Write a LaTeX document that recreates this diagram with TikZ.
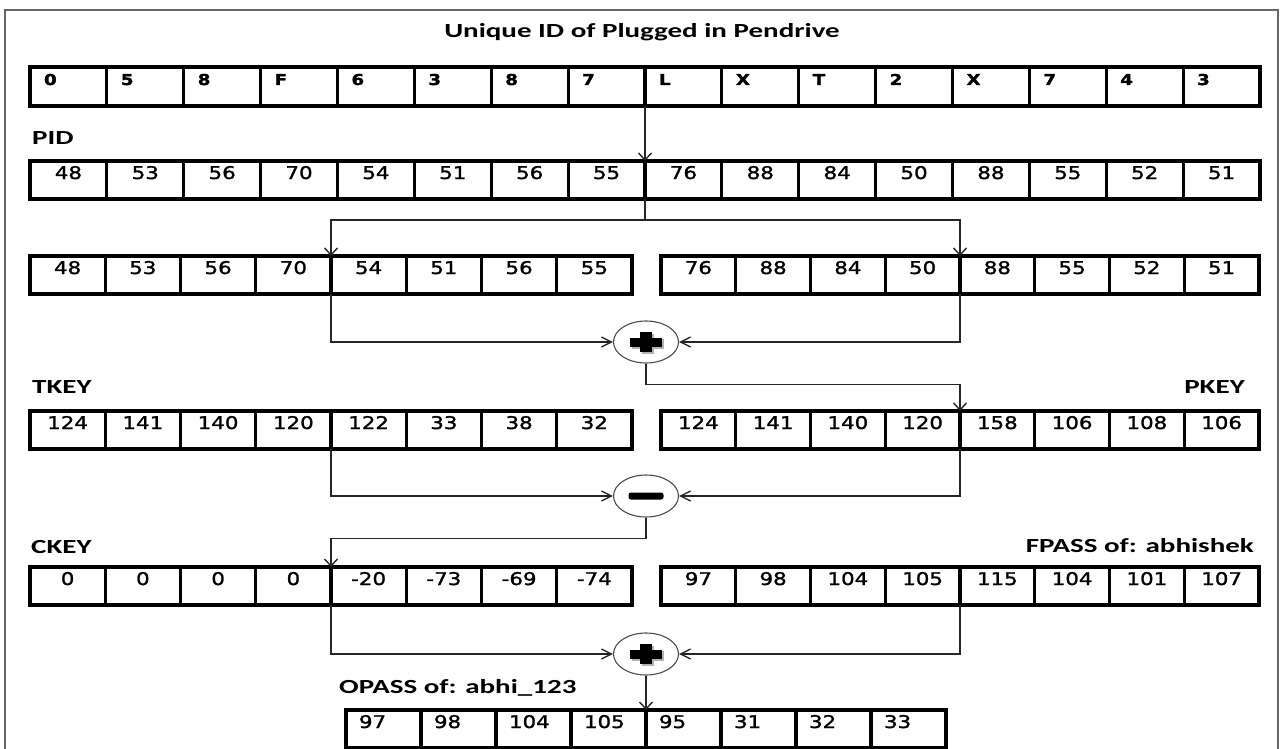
\documentclass[tikz,border=0pt]{standalone}
\usepackage{fontspec}
\usetikzlibrary{arrows.meta,shapes.geometric}
\newfontfamily\labfont[FakeStretch=1.45]{Carlito}
\newfontfamily\cellfont[FakeStretch=1.22,FakeBold=1.5]{DejaVu Sans}

\tikzset{
  cellbase/.style={draw=black, line width=3.2pt, inner ysep=0pt, outer sep=0pt,
    text height=18pt, text depth=20pt, font=\cellfont\fontsize{17.5}{17.5}\selectfont},
  numcell/.style={cellbase, text width=#1pt, inner xsep=0pt, align=center},
  leftcell/.style n args={2}{cellbase, text width=#1pt, inner xsep=#2pt, align=left},
  idcell/.style={leftcell={48.875}{14}, text height=18pt, text depth=21pt,
    font=\cellfont\bfseries\fontsize{15}{15}\selectfont},
  lab/.style={font=\labfont\bfseries\fontsize{20}{20}\selectfont, inner sep=0pt},
  frame/.style={draw=black!60, line width=1.6pt},
  conn/.style={draw=black!85, line width=1.4pt},
  harr/.style={-{Straight Barb[length=10pt,width=10pt,line width=1.4pt]}},
  varr/.style={-{Straight Barb[length=7pt,width=13pt,line width=1.4pt]}},
  opnode/.style={ellipse, draw=black!70, line width=1.1pt, fill=white,
    minimum width=65pt, minimum height=42pt, inner sep=0pt},
  plussign/.pic={
    \fill[black!30] (-14.5,-3) rectangle (17.5,6.5);
    \fill[black!30] (-4.5,-8.5) rectangle (8,12);
    \fill[black] (-16,-4.5) rectangle (16,4.5);
    \fill[black] (-6,-10) rectangle (6,10);
  },
  minussign/.pic={
    \fill[black, rounded corners=2.5pt] (-17.5,-3.5) rectangle (17.5,3.5);
  }
}

\begin{document}
\begin{tikzpicture}[x=1pt,y=-1pt]
\useasboundingbox (0,0) rectangle (1282,749);
\fill[white] (0,0) rectangle (1282,749);

% page frame
\draw[frame] (5,749) -- (5,10) -- (1278,10) -- (1278,749);

% labels
\node[lab, anchor=base] (title) at (642,38) {Unique ID of Plugged in Pendrive};
\node[lab, anchor=base west] (pidlab) at (32,145) {PID};
\node[lab, anchor=base west] (tkeylab) at (32,393) {TKEY};
\node[lab, anchor=base east] (pkeylab) at (1245,393) {PKEY};
\node[lab, anchor=base west] (ckeylab) at (31,553) {CKEY};
\node[lab, anchor=base east] (fpasslab) at (1254,552) {FPASS of: abhishek};
\node[lab, anchor=base west] (opasslab) at (339,693) {OPASS of: abhi\_123};

% unique ID characters
\foreach \v [count=\i] in {0,5,8,F,6,3,8,7,L,X,T,2,X,7,4,3}
  \node[idcell] (u\i) at ({30+76.875*(\i-0.5)},86.5) {\v};

% PID codes
\foreach \v [count=\i] in {48,53,56,70,54,51,56,55,76,88,84,50,88,55,52,51}
  \node[numcell=76.875] (p\i) at ({30+76.875*(\i-0.5)},180) {\v};

% halves of PID
\foreach \v [count=\i] in {48,53,56,70,54,51,56,55}
  \node[numcell=75.25] (a\i) at ({30+75.25*(\i-0.5)},275) {\v};
\foreach \v [count=\i] in {76,88,84,50,88,55,52,51}
  \node[numcell=74.75] (b\i) at ({661+74.75*(\i-0.5)},275) {\v};

% TKEY and PKEY
\foreach \v [count=\i] in {124,141,140,120,122,33,38,32}
  \node[numcell=75.25] (t\i) at ({30+75.25*(\i-0.5)},430) {\v};
\foreach \v [count=\i] in {124,141,140,120,158,106,108,106}
  \node[numcell=74.75] (k\i) at ({661+74.75*(\i-0.5)},430) {\v};

% CKEY and FPASS
\foreach \v [count=\i] in {0,0,0,0,-20,-73,-69,-74}
  \node[numcell=75.25] (c\i) at ({30+75.25*(\i-0.5)},586) {\v};
\foreach \v [count=\i] in {97,98,104,105,115,104,101,107}
  \node[numcell=74.75] (f\i) at ({661+74.75*(\i-0.5)},586) {\v};

% OPASS
\foreach \v [count=\i] in {97,98,104,105,95,31,32,33}
  \node[leftcell={49}{13}] (o\i) at ({346+75*(\i-0.5)},729) {\v};

% operators
\node[opnode] (plus1) at (646,342) {};
\node[opnode] (minus) at (646,496) {};
\node[opnode] (plus2) at (646,654) {};
\pic at (plus1.center) {plussign};
\pic at (minus.center) {minussign};
\pic at (plus2.center) {plussign};

% connectors
\draw[conn,varr] (u9.south west) -- (p9.north west);
\draw[conn] (p9.south west) -- ++(0,21) coordinate (split);
\draw[conn,varr] (split) -| (a5.north west);
\draw[conn,varr] (split) -| (b5.north west);
\draw[conn,harr] (a5.south west) |- (plus1.west);
\draw[conn,harr] (b5.south west) |- (plus1.east);
\draw[conn,varr] (plus1.south) -- ++(0,21) -| (k5.north west);
\draw[conn,harr] (t5.south west) |- (minus.west);
\draw[conn,harr] (k5.south west) |- (minus.east);
\draw[conn,varr] (minus.south) -- ++(0,21) -| (c5.north west);
\draw[conn,harr] (c5.south west) |- (plus2.west);
\draw[conn,harr] (f5.south west) |- (plus2.east);
\draw[conn,varr] (plus2.south) -- (o5.north west);
\end{tikzpicture}
\end{document}
